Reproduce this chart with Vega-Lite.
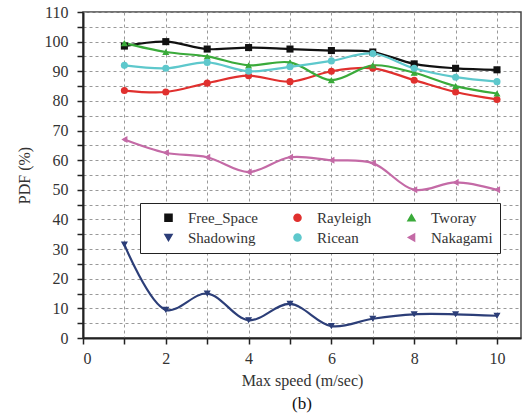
{
  "$schema": "https://vega.github.io/schema/vega-lite/v6.json",
  "width": 438,
  "height": 326,
  "autosize": {"type": "none"},
  "padding": {"left": 83, "top": 12, "right": 10, "bottom": 79},
  "background": "white",
  "title": {"text": "(b)", "orient": "bottom", "font": "Liberation Serif, Times New Roman, serif", "fontSize": 17, "fontWeight": "normal", "color": "#111", "offset": 8},
  "config": {
    "font": "Liberation Serif, Times New Roman, serif",
    "view": {"stroke": "#444", "strokeWidth": 1.5},
    "axis": {"labelFont": "Liberation Serif, Times New Roman, serif", "titleFont": "Liberation Serif, Times New Roman, serif", "labelFontSize": 16, "titleFontSize": 16, "titleFontWeight": "normal", "labelColor": "#333", "titleColor": "#333", "domainColor": "#222", "domainWidth": 2, "tickColor": "#222", "tickWidth": 1.5, "gridColor": "#999", "gridDash": [3, 3], "gridWidth": 1, "labelPadding": 6},
    "legend": {"labelFont": "Liberation Serif, Times New Roman, serif"}
  },
  "data": {"values": [
    {"series": "Free_Space", "speed": 1, "pdf": 98.5}, {"series": "Free_Space", "speed": 2, "pdf": 100}, {"series": "Free_Space", "speed": 3, "pdf": 97.5}, {"series": "Free_Space", "speed": 4, "pdf": 98}, {"series": "Free_Space", "speed": 5, "pdf": 97.5}, {"series": "Free_Space", "speed": 6, "pdf": 97}, {"series": "Free_Space", "speed": 7, "pdf": 96.5}, {"series": "Free_Space", "speed": 8, "pdf": 92.5}, {"series": "Free_Space", "speed": 9, "pdf": 91}, {"series": "Free_Space", "speed": 10, "pdf": 90.5},
    {"series": "Rayleigh", "speed": 1, "pdf": 83.5}, {"series": "Rayleigh", "speed": 2, "pdf": 83}, {"series": "Rayleigh", "speed": 3, "pdf": 86}, {"series": "Rayleigh", "speed": 4, "pdf": 88.5}, {"series": "Rayleigh", "speed": 5, "pdf": 86.5}, {"series": "Rayleigh", "speed": 6, "pdf": 90}, {"series": "Rayleigh", "speed": 7, "pdf": 91}, {"series": "Rayleigh", "speed": 8, "pdf": 87}, {"series": "Rayleigh", "speed": 9, "pdf": 83}, {"series": "Rayleigh", "speed": 10, "pdf": 80.5},
    {"series": "Tworay", "speed": 1, "pdf": 99.5}, {"series": "Tworay", "speed": 2, "pdf": 96.5}, {"series": "Tworay", "speed": 3, "pdf": 95}, {"series": "Tworay", "speed": 4, "pdf": 92}, {"series": "Tworay", "speed": 5, "pdf": 93}, {"series": "Tworay", "speed": 6, "pdf": 87}, {"series": "Tworay", "speed": 7, "pdf": 92}, {"series": "Tworay", "speed": 8, "pdf": 89.5}, {"series": "Tworay", "speed": 9, "pdf": 85}, {"series": "Tworay", "speed": 10, "pdf": 82.5},
    {"series": "Shadowing", "speed": 1, "pdf": 31.5}, {"series": "Shadowing", "speed": 2, "pdf": 9.5}, {"series": "Shadowing", "speed": 3, "pdf": 15}, {"series": "Shadowing", "speed": 4, "pdf": 6}, {"series": "Shadowing", "speed": 5, "pdf": 11.5}, {"series": "Shadowing", "speed": 6, "pdf": 4}, {"series": "Shadowing", "speed": 7, "pdf": 6.5}, {"series": "Shadowing", "speed": 8, "pdf": 8}, {"series": "Shadowing", "speed": 9, "pdf": 8}, {"series": "Shadowing", "speed": 10, "pdf": 7.5},
    {"series": "Ricean", "speed": 1, "pdf": 92}, {"series": "Ricean", "speed": 2, "pdf": 91}, {"series": "Ricean", "speed": 3, "pdf": 93}, {"series": "Ricean", "speed": 4, "pdf": 90}, {"series": "Ricean", "speed": 5, "pdf": 91.5}, {"series": "Ricean", "speed": 6, "pdf": 93.5}, {"series": "Ricean", "speed": 7, "pdf": 96}, {"series": "Ricean", "speed": 8, "pdf": 91}, {"series": "Ricean", "speed": 9, "pdf": 88}, {"series": "Ricean", "speed": 10, "pdf": 86.5},
    {"series": "Nakagami", "speed": 1, "pdf": 67}, {"series": "Nakagami", "speed": 2, "pdf": 62.5}, {"series": "Nakagami", "speed": 3, "pdf": 61}, {"series": "Nakagami", "speed": 4, "pdf": 56}, {"series": "Nakagami", "speed": 5, "pdf": 61}, {"series": "Nakagami", "speed": 6, "pdf": 60}, {"series": "Nakagami", "speed": 7, "pdf": 59}, {"series": "Nakagami", "speed": 8, "pdf": 50}, {"series": "Nakagami", "speed": 9, "pdf": 52.5}, {"series": "Nakagami", "speed": 10, "pdf": 50}
  ]},
  "encoding": {
    "x": {"field": "speed", "type": "quantitative", "title": "Max speed (m/sec)", "scale": {"domain": [0, 10.58], "nice": false},
      "axis": {"values": [0,1,2,3,4,5,6,7,8,9,10], "labelExpr": "datum.value % 2 == 0 ? datum.label : ''", "tickSize": 6, "titlePadding": 6}},
    "y": {"field": "pdf", "type": "quantitative", "title": "PDF (%)", "scale": {"domain": [0, 110], "nice": false},
      "axis": {"values": [0,5,10,15,20,25,30,35,40,45,50,55,60,65,70,75,80,85,90,95,100,105,110], "labelExpr": "datum.value % 10 == 0 ? datum.label : ''", "tickSize": 6, "labelPadding": 9, "titlePadding": 12}},
    "color": {"field": "series", "type": "nominal",
      "scale": {"domain": ["Free_Space", "Shadowing", "Rayleigh", "Ricean", "Tworay", "Nakagami"], "range": ["#111111", "#2c3e78", "#e0302e", "#5ec8cc", "#3aaa3a", "#c46aa6"]},
      "legend": {"orient": "none", "legendX": 57, "legendY": 191, "columns": 3, "gridAlign": "each", "title": null, "strokeColor": "#222", "fillColor": "white", "padding": 7, "labelFontSize": 15, "labelColor": "#333", "columnPadding": 18, "rowPadding": 4, "symbolSize": 50, "symbolOffset": 14, "labelOffset": 12, "labelLimit": 140}},
    "shape": {"field": "series", "type": "nominal",
      "scale": {"domain": ["Free_Space", "Shadowing", "Rayleigh", "Ricean", "Tworay", "Nakagami"], "range": ["square", "triangle-down", "circle", "circle", "triangle-up", "triangle-left"]}}
  },
  "layer": [
    {"mark": {"type": "line", "interpolate": "catmull-rom", "strokeWidth": 2.2}},
    {"mark": {"type": "point", "filled": true, "size": 50, "opacity": 1}}
  ]
}
